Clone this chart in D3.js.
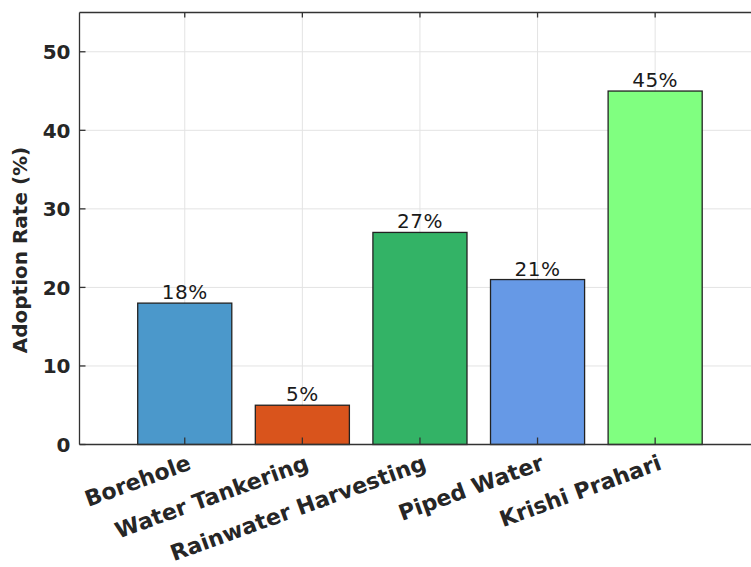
<!DOCTYPE html>
<html><head><meta charset="utf-8">
<script src="https://cdn.jsdelivr.net/npm/d3@7"></script>
<style>body{margin:0;background:#fff}svg{display:block}</style>
</head><body>
<svg id="c" width="751" height="567"></svg>
<script>
const categories = ["Borehole","Water Tankering","Rainwater Harvesting","Piped Water","Krishi Prahari"];
const values = [18,5,27,21,45];
const colors = ["#4b98cb","#d9541c","#33b366","#6699e6","#80ff80"];
const yTicks = [0,10,20,30,40,50];

(function(){
const svg = d3.select("#c");
const mLeft = 79.5, mTop = 12.5, mBottom = 444.5;
const x = d3.scaleLinear().domain([0.105, 5.895]).range([mLeft, mLeft + 5.79*117.6]);
const y = d3.scaleLinear().domain([0,55]).range([mBottom, mTop]);
const mRight = x.range()[1];
const idx = d3.range(1, categories.length+1);

// grid
svg.append("g").selectAll("line").data(yTicks.slice(1)).join("line")
  .attr("x1", mLeft).attr("x2", mRight).attr("y1", d=>y(d)).attr("y2", d=>y(d))
  .attr("stroke","#e3e3e3").attr("stroke-width",1);
svg.append("g").selectAll("line").data(idx).join("line")
  .attr("x1", d=>x(d)).attr("x2", d=>x(d)).attr("y1", mTop).attr("y2", mBottom)
  .attr("stroke","#e3e3e3").attr("stroke-width",1);

// bars
const bw = 0.8;
svg.append("g").selectAll("rect").data(values).join("rect")
  .attr("x",(d,i)=>x(i+1-bw/2)).attr("width",(d,i)=>x(i+1+bw/2)-x(i+1-bw/2))
  .attr("y",d=>y(d)).attr("height",d=>y(0)-y(d))
  .attr("fill",(d,i)=>colors[i]).attr("stroke","#222").attr("stroke-width",1.3);

// value labels
svg.append("g").selectAll("text").data(values).join("text")
  .attr("x",(d,i)=>x(i+1)).attr("y",d=>y(d)-4)
  .attr("text-anchor","middle").attr("font-family","DejaVu Sans").attr("font-size",20)
  .attr("letter-spacing","0.5px")
  .attr("fill","#1a1a1a").text(d=>d+"%");

// axes lines
const ax = svg.append("g").attr("stroke","#333").attr("stroke-width",1.3).attr("fill","none");
ax.append("line").attr("x1",mLeft).attr("x2",mRight).attr("y1",mBottom).attr("y2",mBottom);
ax.append("line").attr("x1",mLeft).attr("x2",mRight).attr("y1",mTop).attr("y2",mTop);
ax.append("line").attr("x1",mLeft).attr("x2",mLeft).attr("y1",mTop).attr("y2",mBottom);
ax.append("g").selectAll("line").data(idx).join("line").attr("x1",d=>x(d)).attr("x2",d=>x(d)).attr("y1",mBottom).attr("y2",mBottom-7);
ax.append("g").selectAll("line").data(idx).join("line").attr("x1",d=>x(d)).attr("x2",d=>x(d)).attr("y1",mTop).attr("y2",mTop+5);
ax.append("g").selectAll("line").data(yTicks).join("line").attr("x1",mLeft).attr("x2",mLeft+6).attr("y1",d=>y(d)).attr("y2",d=>y(d));

// y tick labels
svg.append("g").selectAll("text").data(yTicks).join("text")
  .attr("x", mLeft-9).attr("y", d=>y(d)).attr("dy","0.36em")
  .attr("text-anchor","end").attr("font-family","DejaVu Sans").attr("font-weight","bold")
  .attr("font-size",20).attr("fill","#262626").text(d=>d);

// x tick labels
svg.append("g").selectAll("text").data(categories).join("text")
  .attr("transform",(d,i)=>`translate(${x(i+1)+2},${mBottom+9}) rotate(-20)`)
  .attr("dy","0.75em").attr("text-anchor","end")
  .attr("font-family","DejaVu Sans").attr("font-weight","bold").attr("font-size",22)
  .attr("fill","#262626").text(d=>d);

// y label
svg.append("text").attr("transform",`translate(27,250) rotate(-90)`)
  .attr("text-anchor","middle").attr("font-family","DejaVu Sans").attr("font-weight","bold")
  .attr("font-size",20).attr("fill","#262626").text("Adoption Rate (%)");
})();
</script>
</body></html>
